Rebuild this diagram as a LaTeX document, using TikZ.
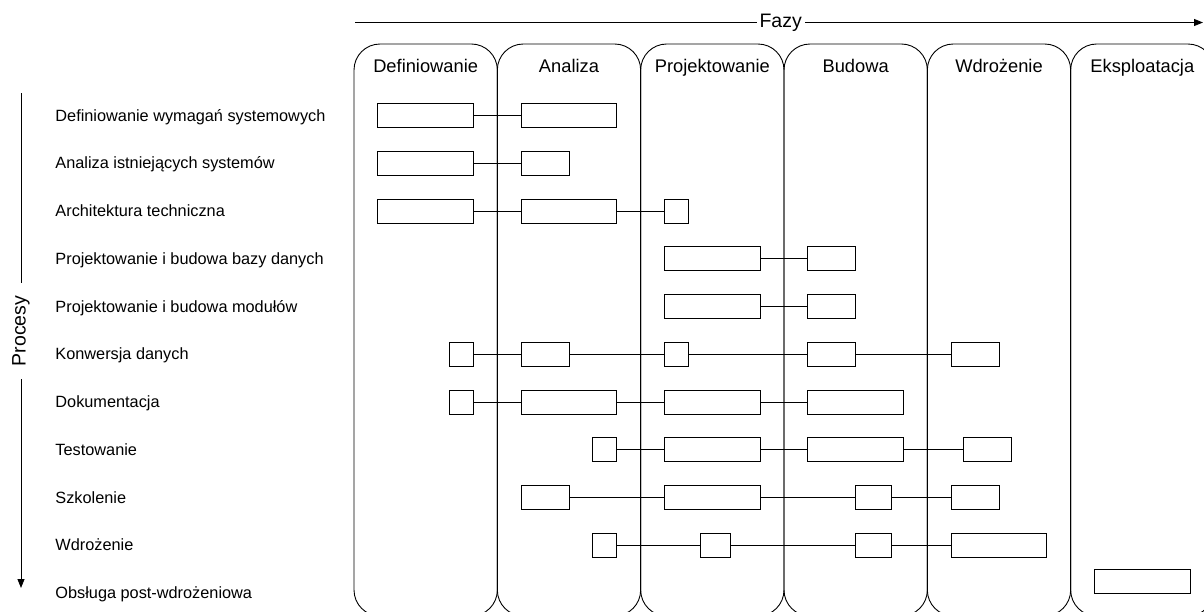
\documentclass[tikz,border=0pt]{standalone}
\usepackage{fontspec}
\setmainfont{Liberation Sans}
\usetikzlibrary{arrows.meta}
% one process bar: name, row y, start and end in grid units
\newcommand{\ganttbar}[4]{%
  \node[barbox, minimum width={(#4-#3)*23.889pt}] (#1) at ({354+(#3+#4)*11.9445},#2) {};}
\begin{document}
\begin{tikzpicture}[x=1pt,y=-1pt,line width=0.9pt,
  barbox/.style={draw, minimum height=24pt, inner sep=0pt, outer sep=0pt},
  phasecol/.style={draw, rounded corners=26pt},
  phasetitle/.style={font=\fontsize{18.3}{20}\selectfont, anchor=base, inner sep=0pt},
  proctitle/.style={font=\fontsize{16.3}{19}\selectfont, anchor=base west, inner sep=0pt},
  axislabel/.style={font=\fontsize{19.5}{22}\selectfont, fill=white},
  axis/.style={-{Triangle[length=9pt,width=7pt]}},
  link/.style={draw}]
\useasboundingbox (0,0) rectangle (1204,611);

% phase columns, running past the lower and right edges
\begin{scope}
  \clip (0,0) rectangle (1204,611);
  \foreach \i in {0,...,5}
    \draw[phasecol] ({354+\i*143.333},44) rectangle ({354+(\i+1)*143.333},616);
\end{scope}

% phase titles
\foreach \t [count=\i from 0] in {Definiowanie,Analiza,Projektowanie,Budowa,Wdrożenie,Eksploatacja}
  \node[phasetitle] (ph\i) at ({354+(\i+0.5)*143.333},72.5) {\t};

% phase axis
\coordinate (fs) at (355,22.5);
\coordinate (fe) at (1203,22.5);
\draw[axis] (fs) -- node[axislabel, pos=0.502, inner xsep=3pt, inner ysep=1pt] (fazy) {Fazy} (fe);

% process axis
\coordinate (ps) at (21,93);
\coordinate (pe) at (21,588);
\draw[axis] (ps) -- node[axislabel, rotate=90, pos=0.481, inner xsep=13pt, inner ysep=1pt] (procesy) {Procesy} (pe);

% process names
\foreach \t [count=\i] in {Definiowanie wymagań systemowych,Analiza istniejących systemów,Architektura techniczna,Projektowanie i budowa bazy danych,Projektowanie i budowa modułów,Konwersja danych,Dokumentacja,Testowanie,Szkolenie,Wdrożenie,Obsługa post-wdrożeniowa}
  \node[proctitle] (l\i) at (55,{115.5+(\i-1)*47.75+5.6}) {\t};

% process bars
\ganttbar{r1a}{115.5}{1}{5}
\ganttbar{r1b}{115.5}{7}{11}

\ganttbar{r2a}{163.25}{1}{5}
\ganttbar{r2b}{163.25}{7}{9}

\ganttbar{r3a}{211}{1}{5}
\ganttbar{r3b}{211}{7}{11}
\ganttbar{r3c}{211}{13}{14}

\ganttbar{r4a}{258.75}{13}{17}
\ganttbar{r4b}{258.75}{19}{21}

\ganttbar{r5a}{306.5}{13}{17}
\ganttbar{r5b}{306.5}{19}{21}

\ganttbar{r6a}{354.25}{4}{5}
\ganttbar{r6b}{354.25}{7}{9}
\ganttbar{r6c}{354.25}{13}{14}
\ganttbar{r6d}{354.25}{19}{21}
\ganttbar{r6e}{354.25}{25}{27}

\ganttbar{r7a}{402}{4}{5}
\ganttbar{r7b}{402}{7}{11}
\ganttbar{r7c}{402}{13}{17}
\ganttbar{r7d}{402}{19}{23}

\ganttbar{r8a}{449.75}{10}{11}
\ganttbar{r8b}{449.75}{13}{17}
\ganttbar{r8c}{449.75}{19}{23}
\ganttbar{r8d}{449.75}{25.5}{27.5}

\ganttbar{r9a}{497.5}{7}{9}
\ganttbar{r9b}{497.5}{13}{17}
\ganttbar{r9c}{497.5}{21}{22.5}
\ganttbar{r9d}{497.5}{25}{27}

\ganttbar{r10a}{545.25}{10}{11}
\ganttbar{r10b}{545.25}{14.5}{15.75}
\ganttbar{r10c}{545.25}{21}{22.5}
\ganttbar{r10d}{545.25}{25}{29}

\ganttbar{r11a}{581}{31}{35}

% links between consecutive bars of a process
\foreach \u/\v in {r1a/r1b, r2a/r2b, r3a/r3b, r3b/r3c, r4a/r4b, r5a/r5b,
    r6a/r6b, r6b/r6c, r6c/r6d, r6d/r6e,
    r7a/r7b, r7b/r7c, r7c/r7d,
    r8a/r8b, r8b/r8c, r8c/r8d,
    r9a/r9b, r9b/r9c, r9c/r9d,
    r10a/r10b, r10b/r10c, r10c/r10d}
  \draw[link] (\u) -- (\v);
\end{tikzpicture}
\end{document}
